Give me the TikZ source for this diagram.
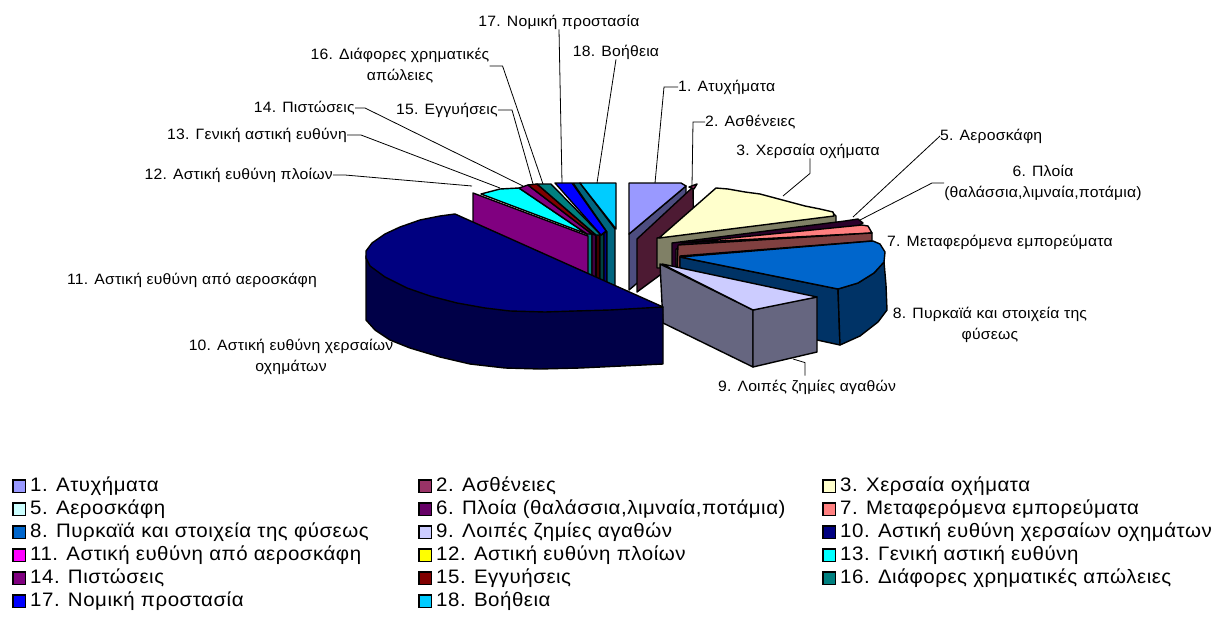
\documentclass[tikz,border=0pt]{standalone}
\usepackage{fontspec}
\setmainfont{Liberation Sans}
\newfontfamily\legfont[FakeStretch=1.05,LetterSpace=2.7]{Liberation Sans}
\newfontfamily\lblfontfam[FakeStretch=1.05,LetterSpace=1.5]{Liberation Sans}

\definecolor{cA}{HTML}{9999FF}
\definecolor{cAs}{HTML}{4D4D80}
\definecolor{cB}{HTML}{993366}
\definecolor{cBs}{HTML}{4D1A33}
\definecolor{cC}{HTML}{FFFFCC}
\definecolor{cCs}{HTML}{808066}
\definecolor{cE}{HTML}{CCFFFF}
\definecolor{cF}{HTML}{660066}
\definecolor{cFs}{HTML}{2B002B}
\definecolor{cG}{HTML}{FF8080}
\definecolor{cGs}{HTML}{804040}
\definecolor{cH}{HTML}{0066CC}
\definecolor{cHs}{HTML}{003366}
\definecolor{cI}{HTML}{CCCCFF}
\definecolor{cIs}{HTML}{666680}
\definecolor{cJ}{HTML}{000080}
\definecolor{cJs}{HTML}{000048}
\definecolor{cK}{HTML}{FF00FF}
\definecolor{cKs}{HTML}{800080}
\definecolor{cL}{HTML}{FFFF00}
\definecolor{cM}{HTML}{00FFFF}
\definecolor{cMs}{HTML}{008080}
\definecolor{cN}{HTML}{800080}
\definecolor{cNs}{HTML}{400040}
\definecolor{cO}{HTML}{800000}
\definecolor{cOs}{HTML}{400000}
\definecolor{cP}{HTML}{008080}
\definecolor{cPs}{HTML}{004040}
\definecolor{cQ}{HTML}{0000FF}
\definecolor{cQs}{HTML}{000080}
\definecolor{cR}{HTML}{00CCFF}
\definecolor{cRs}{HTML}{006680}

\begin{document}
\begin{tikzpicture}[x=1pt,y=-1pt,
  face/.style={draw=black,line width=1.4pt,line join=round},
  lead/.style={draw=black,line width=0.8pt},
  lbl/.style={font=\lblfontfam\fontsize{15}{21}\selectfont,inner sep=0pt,align=center},
  swatch/.style={draw=black,line width=1.5pt,minimum size=12.5pt,inner sep=0pt},
  legtxt/.style={font=\legfont\fontsize{19.5}{22}\selectfont,inner sep=0pt,anchor=west}]

\useasboundingbox (0,0) rectangle (1219,632);

% ---------- back fan of small slices (11-18): side strips ----------
\draw[face,fill=cMs] (587,233) -- (592,234) -- (592,300) -- (587,300) -- cycle;
\draw[face,fill=cNs] (592,234) -- (596,235) -- (596,300) -- (592,300) -- cycle;
\draw[face,fill=cOs] (596,235) -- (600,235) -- (600,300) -- (596,300) -- cycle;
\draw[face,fill=cPs] (600,235) -- (604,234) -- (604,300) -- (600,300) -- cycle;
\draw[face,fill=cQs] (604,233) -- (607,232) -- (607,300) -- (604,300) -- cycle;
\draw[face,fill=cRs] (573,183) -- (580,183) -- (615,229) -- (615,300) -- (607,300) -- (607,232) -- cycle;
% side of slice 11
\draw[face,fill=cKs] (473,193) -- (588,236) -- (588,295) -- (473,245) -- cycle;
% top faces of the fan
\draw[face,fill=cM] (481,194) -- (500,189) -- (519,188) -- (587,234) -- cycle;
\draw[face,fill=cN] (519,188) -- (528,185) -- (592,234) -- (587,234) -- cycle;
\draw[face,fill=cO] (528,185) -- (537,184) -- (596,235) -- (592,234) -- cycle;
\draw[face,fill=cP] (537,184) -- (551,184) -- (601,235) -- (596,235) -- cycle;
\draw[face,fill=cQ] (555,183) -- (572,183) -- (606,231) -- (601,235) -- cycle;
\draw[face,fill=cR] (580,183) -- (616,183) -- (616,229) -- cycle;

% ---------- slices 1 and 2 ----------
\draw[face,fill=cAs] (629,234) -- (686,186) -- (686,242) -- (629,290) -- cycle;
\draw[face,fill=cA] (629,183) -- (681,183) -- (686,186) -- (629,234) -- cycle;
\draw[face,fill=cBs] (637,239) -- (693,187) -- (694,250) -- (637,292) -- cycle;
\draw[face,fill=cB] (689,187) -- (697,184) -- (694,189) -- cycle;

% ---------- slice 3 ----------
\draw[face,fill=cCs] (657,238) -- (833,213) -- (836,216) -- (836,246) -- (675,268) -- (657,268) -- cycle;
\draw[face,fill=cC] (659,238) -- (716,188) -- (728,189) -- (745,192) -- (760,194) -- (775,198)
  -- (790,202) -- (805,206) -- (820,209) -- (833,212) -- (834,216) -- cycle;

% ---------- slices 5, 6 and 7 ----------
\draw[face,fill=cFs] (672,243) -- (845,221) -- (858,219) -- (863,223) -- (858,226) -- (676,249) -- (676,268) -- (672,268) -- cycle;
\draw[face,fill=cG] (681,243) -- (862,225) -- (868,226) -- (872,233) -- cycle;
\draw[face,fill=cGs] (678,245) -- (872,233) -- (872,241) -- (680,256) -- (680,268) -- (677,268) -- cycle;

% ---------- slice 8 ----------
\draw[face,fill=cHs] (680,257) -- (838,289) -- (840,345) -- (817,340) -- (680,312) -- cycle;
\draw[face,fill=cHs] (838,289) -- (858,283) -- (874,273) -- (884,262) -- (886,285) -- (887,310)
  -- (878,322) -- (860,336) -- (840,345) -- cycle;
\draw[face,fill=cH] (680,257) -- (873,241) -- (880,244) -- (885,252) -- (884,262) -- (874,273)
  -- (858,283) -- (838,289) -- cycle;

% ---------- slice 9 ----------
\draw[face,fill=cIs] (660,264) -- (753,310) -- (753,367) -- (663,323) -- cycle;
\draw[face,fill=cIs] (753,310) -- (770,306) -- (790,302) -- (817,297) -- (817,352) -- (753,367) -- cycle;
\draw[face,fill=cI] (662,264) -- (817,297) -- (753,310) -- cycle;

% ---------- slice 10 ----------
\draw[face,fill=cJs] (366,256) -- (366,320) -- (375,330) -- (390,340) -- (410,348) -- (440,357)
  -- (470,364) -- (505,368) -- (540,369) -- (580,368) -- (663,364) -- (663,307) -- cycle;
\draw[face,fill=cJ] (455,214) -- (663,307) -- (610,310) -- (575,311) -- (545,312) -- (510,311)
  -- (485,308) -- (457,303) -- (430,296) -- (407,288) -- (385,277) -- (370,266) -- (366,258)
  -- (366,251) -- (372,243) -- (385,234) -- (400,227) -- (420,220) -- (440,216) -- cycle;

% ---------- leader anchors on the slices ----------
\coordinate (p1) at (655,183);
\coordinate (p2) at (692,186);
\coordinate (p3) at (783,196);
\coordinate (p5) at (853,217);
\coordinate (p6) at (860,220);
\coordinate (p9) at (793,359);
\coordinate (p12) at (472,186);
\coordinate (p13) at (500,188);
\coordinate (p14) at (523,186);
\coordinate (p15) at (533,184);
\coordinate (p16) at (543,184);
\coordinate (p17) at (562,183);
\coordinate (p18) at (597,183);

% ---------- slice labels ----------
\node[lbl,anchor=west] (t1) at (678,87) {1. Ατυχήματα};
\node[lbl,anchor=west] (t2) at (705,122) {2. Ασθένειες};
\node[lbl] (t3) at (808,151) {3. Χερσαία οχήματα};
\node[lbl,anchor=west] (t5) at (940,136) {5. Αεροσκάφη};
\node[lbl] (t6) at (1043,183) {6. Πλοία\\(θαλάσσια,λιμναία,ποτάμια)};
\node[lbl,anchor=west] (t7) at (887,242) {7. Μεταφερόμενα εμπορεύματα};
\node[lbl] (t8) at (990,325) {8. Πυρκαϊά και στοιχεία της\\φύσεως};
\node[lbl] (t9) at (807,387) {9. Λοιπές ζημίες αγαθών};
\node[lbl] (t10) at (291,357) {10. Αστική ευθύνη χερσαίων\\οχημάτων};
\node[lbl] (t11) at (192,280) {11. Αστική ευθύνη από αεροσκάφη};
\node[lbl,anchor=east] (t12) at (333,175) {12. Αστική ευθύνη πλοίων};
\node[lbl,anchor=east] (t13) at (347,135) {13. Γενική αστική ευθύνη};
\node[lbl,anchor=east] (t14) at (355,108) {14. Πιστώσεις};
\node[lbl,anchor=east] (t15) at (498,110) {15. Εγγυήσεις};
\node[lbl] (t16) at (400,66) {16. Διάφορες χρηματικές\\απώλειες};
\node[lbl] (t17) at (559,22) {17. Νομική προστασία};
\node[lbl] (t18) at (616,52) {18. Βοήθεια};

% ---------- leader lines ----------
\draw[lead] (t1.west) -- ++(-14,0) -- (p1);
\draw[lead] (t2.west) -- ++(-12,0) -- (p2);
\draw[lead] (t3.south -| p3) ++(27,0) -- ++(0,15) -- (p3);
\draw[lead] (t5.west) -- (p5);
\draw[lead] (t6.west) -- ++(-12,0) -- (p6);
\draw[lead] (t9.north -| p9) ++(12,-4) -- ++(0,-13) -- (p9);
\draw[lead] (t12.east) -- ++(12,0) -- (p12);
\draw[lead] (t13.east) -- ++(14,0) -- (p13);
\draw[lead] (t14.east) -- ++(10,0) -- (p14);
\draw[lead] (t15.east) -- ++(14,0) -- (p15);
\draw[lead] (t16.east) -- ++(13,0) -- (p16);
\draw[lead] (t17.south) -- (p17);
\draw[lead] (t18.south) -- (p18);

% ---------- legend ----------
\foreach \c/\t/\x/\y [count=\i] in {
  cA/{1. Ατυχήματα}/19/486, cB/{2. Ασθένειες}/425/486, cC/{3. Χερσαία οχήματα}/829/486,
  cE/{5. Αεροσκάφη}/19/509, cF/{6. Πλοία (θαλάσσια,λιμναία,ποτάμια)}/425/509, cG/{7. Μεταφερόμενα εμπορεύματα}/829/509,
  cH/{8. Πυρκαϊά και στοιχεία της φύσεως}/19/532, cI/{9. Λοιπές ζημίες αγαθών}/425/532, cJ/{10. Αστική ευθύνη χερσαίων οχημάτων}/829/532,
  cK/{11. Αστική ευθύνη από αεροσκάφη}/19/555, cL/{12. Αστική ευθύνη πλοίων}/425/555, cM/{13. Γενική αστική ευθύνη}/829/555,
  cN/{14. Πιστώσεις}/19/578, cO/{15. Εγγυήσεις}/425/578, cP/{16. Διάφορες χρηματικές απώλειες}/829/578,
  cQ/{17. Νομική προστασία}/19/601, cR/{18. Βοήθεια}/425/601}
{
  \node[swatch,fill=\c] (sw\i) at (\x,\y) {};
  \node[legtxt] (lg\i) at ([xshift=4pt]sw\i.east) {\t};
}
\end{tikzpicture}
\end{document}
